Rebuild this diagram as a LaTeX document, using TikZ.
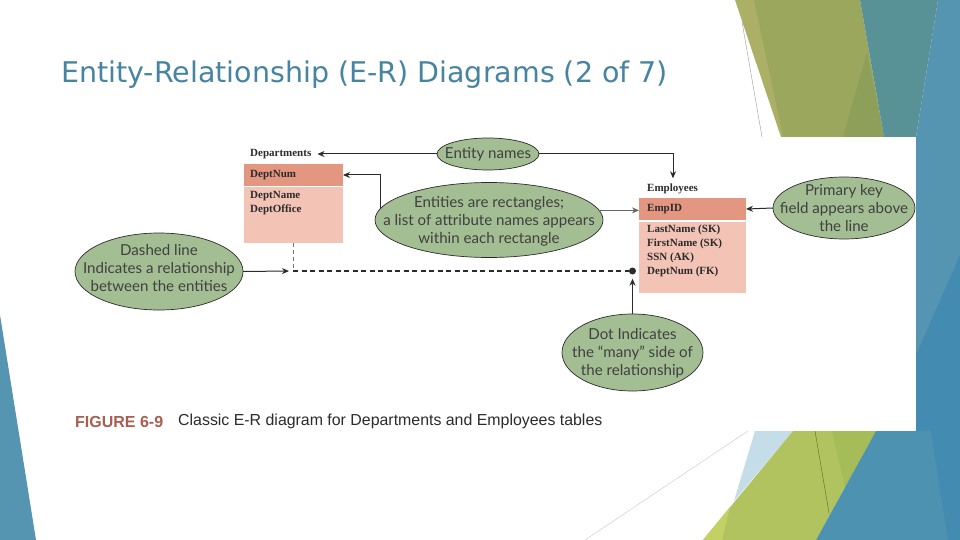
\documentclass[tikz,border=0pt]{standalone}
\usepackage{fontspec}
\setmainfont{Liberation Sans}
\newfontfamily\titlefont{DejaVu Sans}
\newfontfamily\bubfont{Lato}
\newfontfamily\tabfont{Liberation Serif}
\usetikzlibrary{shapes.geometric,arrows.meta}
\definecolor{titlec}{HTML}{46849F}
\definecolor{bubble}{HTML}{A4BE94}
\definecolor{headc}{HTML}{E39680}
\definecolor{bodyc}{HTML}{F3C3B5}
\definecolor{capc}{HTML}{A85E50}
\definecolor{inkc}{HTML}{2B2B2B}
\newcommand{\bub}[2][-5pt]{\makebox[0pt]{\smash{\raisebox{#1}{\begin{tabular}{@{}c@{}}#2\end{tabular}}}}}
\tikzset{
  bubblenode/.style={ellipse,draw=inkc,line width=0.7pt,fill=bubble,inner sep=0pt,outer sep=0pt,text=inkc!90,font=\bubfont\fontsize{15.1}{18}\selectfont},
  headbox/.style={fill=headc,inner sep=0pt,outer sep=0pt,anchor=north west},
  bodybox/.style={fill=bodyc,inner sep=0pt,outer sep=0pt,anchor=north west},
  tabtext/.style={inner sep=0pt,anchor=west,text=inkc,font=\tabfont\bfseries\fontsize{11}{14}\selectfont,align=left},
  conn/.style={draw=inkc,line width=1pt,-{Stealth[length=7pt,width=6pt]}},
  dashrel/.style={draw=inkc,line width=1.2pt,dash pattern=on 5pt off 3.5pt},
  thinline/.style={line width=0.4pt}
}
\begin{document}
\begin{tikzpicture}[x=1pt,y=-1pt]
\useasboundingbox (0,0) rectangle (960,540);
\fill[white] (0,0) rectangle (960,540);
% decorative slide background
\fill[color={rgb,255:red,172;green,176;blue,102}] (735,0) -- (756,0) -- (785,137) -- (781,137) -- cycle;
\fill[color={rgb,255:red,156;green,167;blue,94}] (754,0) -- (860,0) -- (884,137) -- (783,137) -- cycle;
\fill[color={rgb,255:red,141;green,159;blue,88}] (867,52) -- (884,137) -- (843,137) -- cycle;
\fill[color={rgb,255:red,89;green,146;blue,150}] (860,0) -- (938,0) -- (916,137) -- (884,137) -- cycle;
\fill[color={rgb,255:red,86;green,149;blue,178}] (938,0) -- (960,0) -- (960,540) -- (916,540) -- (916,137) -- cycle;
\fill[color={rgb,255:red,67;green,139;blue,176}] (960,255) -- (960,540) -- (916,540) -- (916,355) -- cycle;
\draw[thinline,color=black!40] (742,22) -- (762,137);
\fill[color={rgb,255:red,197;green,220;blue,233}] (755,431) -- (793,431) -- (734,501) -- cycle;
\fill[color={rgb,255:red,177;green,195;blue,94}] (793,431) -- (876,431) -- (816,540) -- (703,540) -- cycle;
\fill[color={rgb,255:red,166;green,188;blue,88}] (832,431) -- (876,431) -- (845,487) -- cycle;
\fill[color={rgb,255:red,195;green,208;blue,100}] (730,507) -- (722,540) -- (703,540) -- cycle;
\draw[thinline,color=black!35!olive] (815,431) -- (829,513);
\fill[color={rgb,255:red,78;green,146;blue,178}] (876,431) -- (931,431) -- (948,540) -- (816,540) -- cycle;
\fill[color={rgb,255:red,67;green,139;blue,176}] (931,431) -- (960,431) -- (960,540) -- (948,540) -- cycle;
\draw[thinline,color=black!22] (748,431) -- (585,540);
\fill[color={rgb,255:red,86;green,149;blue,178}] (0,315) -- (36,540) -- (0,540) -- cycle;
% picture panel
\fill[white] (70,137) rectangle (916,431);
% title
\node[inner sep=0pt,anchor=west,text=titlec,font=\titlefont\fontsize{28.5}{32}\selectfont] (title) at (61,75) {Entity-Relationship (E-R) Diagrams (2 of 7)};
% tables
\node[tabtext] (deptlabel) at (250,154) {Departments};
\node[headbox,minimum width=99pt,minimum height=22pt] (depthead) at (244,164) {};
\node[bodybox,minimum width=99pt,minimum height=56pt] (deptbody) at (244,187) {};
\node[tabtext] (deptkey) at (250,175) {DeptNum};
\node[tabtext,anchor=north west] (deptattrs) at (250,191) {DeptName\\DeptOffice};
\node[tabtext] (emplabel) at (647,188.5) {Employees};
\node[headbox,minimum width=107pt,minimum height=22pt] (emphead) at (639,198) {};
\node[bodybox,minimum width=107pt,minimum height=71pt] (empbody) at (639,222) {};
\node[tabtext] (empkey) at (647,209) {EmpID};
\node[tabtext,anchor=north west] (empattrs) at (647,224.5) {LastName (SK)\\FirstName (SK)\\SSN (AK)\\DeptNum (FK)};
% bubbles
\node[bubblenode,minimum width=102pt,minimum height=32pt] (names) at (488,154) {\bub{Entity names}};
\node[bubblenode,minimum width=228pt,minimum height=75pt] (ents) at (489,220) {\bub{Entities are rectangles;\\a list of attribute names appears\\within each rectangle}};
\node[bubblenode,minimum width=142pt,minimum height=62pt] (pk) at (844,208) {\bub{Primary key\\field appears above\\the line}};
\node[bubblenode,minimum width=168pt,minimum height=77pt] (dash) at (159,271.5) {\bub[-2pt]{Dashed line\\Indicates a relationship\\between the entities}};
\node[bubblenode,minimum width=141pt,minimum height=77pt] (many) at (632.5,352.5) {\bub{Dot Indicates\\the “many” side of\\the relationship}};
% relationship
\coordinate (corner) at (293,271);
\node[circle,fill=inkc,inner sep=0pt,minimum size=7pt] (dot) at (632.5,271) {};
\draw[color=black!55,line width=0.8pt,dash pattern=on 4pt off 3pt] (deptbody.south -| corner) -- (corner);
\draw[dashrel] (corner) -- (dot);
% connectors
\draw[conn] (names.west) -- ([xshift=6pt]deptlabel.east);
\draw[conn] (names.east) -| ([yshift=5pt]emplabel.north -| 673,0);
\draw[conn] (ents.174.2) |- (depthead.east);
\draw[conn,draw=black!60] (ents.5.8) -- (ents.5.8 -| emphead.west);
\draw[conn] (pk.180) -- (emphead.east);
\draw[conn] (dash.east) -- ([xshift=-4pt]corner);
\draw[conn] (many.north) -- ([yshift=-4pt]dot.south);
% caption
\node[inner sep=0pt,anchor=west,text=capc,font=\bfseries\fontsize{16}{18}\selectfont] (figno) at (75,421.5) {FIGURE 6-9};
\node[inner sep=0pt,anchor=west,text=inkc,font=\fontsize{15.9}{18}\selectfont] (caption) at (178,421.5) {Classic E-R diagram for Departments and Employees tables};
\end{tikzpicture}
\end{document}
